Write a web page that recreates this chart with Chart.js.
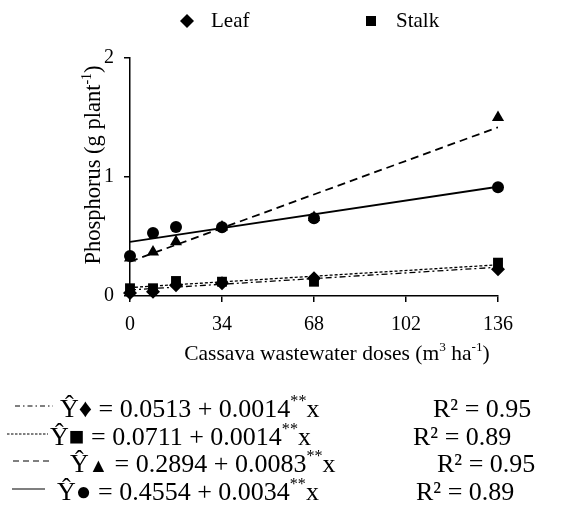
<!DOCTYPE html>
<html>
<head>
<meta charset="utf-8">
<script src="https://cdn.jsdelivr.net/npm/chart.js@4"></script>
<style>
  html, body { margin: 0; padding: 0; background: #fff; }
  #wrap { width: 565px; height: 508px; }
</style>
</head>
<body>
<div id="wrap"><canvas id="myChart" width="565" height="508"></canvas></div>
<script>
// doses of cassava wastewater (m3 ha-1)
const doses = [0, 8.5, 17, 34, 68, 136];
const xTicks = [0, 34, 68, 102, 136];
const yTicks = [0, 1, 2];

// phosphorus (g plant-1)
const leafP = [0.025, 0.036, 0.09, 0.107, 0.149, 0.224];
const stalkP = [0.065, 0.065, 0.126, 0.12, 0.12, 0.28];
const triangleP = [0.32, 0.37, 0.456, 0.58, 0.66, 1.50];
const circleP = [0.336, 0.53, 0.58, 0.577, 0.653, 0.913];

// fitted lines, ends at dose 0 and 136
const trendX = [0, 136];
const leafTrend = [0.051, 0.242];
const stalkTrend = [0.071, 0.262];
const triangleTrend = [0.289, 1.418];
const circleTrend = [0.455, 0.918];

// equations under the chart
const eqSymbols = ['\u2666', '\u25A0', '\u25B2', '\u25CF'];
const eqIntercepts = ['0.0513', '0.0711', '0.2894', '0.4554'];
const eqSlopes = ['0.0014', '0.0014', '0.0083', '0.0034'];
const eqR2 = ['0.95', '0.89', '0.95', '0.89'];

const SERIF = '"Liberation Serif", "Times New Roman", serif';

function pts(xs, ys) {
    return xs.map((x, i) => ({ x: x, y: ys[i] }));
}

function markerSet(label, ys, style, r) {
    return {
        label: label,
        data: pts(doses, ys),
        showLine: false,
        pointStyle: style,
        pointRadius: r,
        backgroundColor: '#000',
        borderColor: '#000',
        borderWidth: 0,
        clip: false
    };
}

function trendSet(ys, dash, w) {
    return {
        label: '',
        data: pts(trendX, ys),
        showLine: true,
        pointRadius: 0,
        borderColor: '#000',
        borderWidth: w,
        borderDash: dash,
        fill: false
    };
}

// draws a row of text pieces, some raised as superscripts or scaled down
function richText(c, parts, x, y, size) {
    let cx = x;
    for (const p of parts) {
        const s = p.sup ? size * 0.62 : size * (p.k || 1);
        c.font = s + 'px ' + SERIF;
        const dy = p.sup ? -size * 0.42 : 0;
        c.fillText(p.t, cx, y + dy);
        cx += c.measureText(p.t).width;
    }
    return cx;
}

function richWidth(c, parts, size) {
    let w = 0;
    for (const p of parts) {
        c.font = (p.sup ? size * 0.62 : size * (p.k || 1)) + 'px ' + SERIF;
        w += c.measureText(p.t).width;
    }
    return w;
}

const eqLayout = [
    { y: 408, x0: 15, x1: 53, dash: [5, 3, 1.5, 3], lw: 1, tx: 60, rx: 433, k: 1 },
    { y: 436, x0: 7, x1: 48, dash: [2.5, 1.5], lw: 1, tx: 50, rx: 413, k: 1 },
    { y: 463, x0: 13, x1: 53, dash: [6, 4], lw: 1.2, tx: 70, rx: 437, k: 0.75 },
    { y: 491, x0: 12, x1: 45, dash: [], lw: 1.2, tx: 57, rx: 416, k: 1 }
];

const decor = {
    id: 'decor',
    afterDraw(chart) {
        const c = chart.ctx;
        c.save();
        c.fillStyle = '#000';
        c.strokeStyle = '#000';

        // legend on top
        c.beginPath();
        c.moveTo(187, 14); c.lineTo(194, 21); c.lineTo(187, 28); c.lineTo(180, 21);
        c.closePath(); c.fill();
        c.fillRect(366, 16, 10, 10);
        c.font = '21px ' + SERIF;
        c.textBaseline = 'middle';
        c.textAlign = 'left';
        c.fillText('Leaf', 211, 21);
        c.fillText('Stalk', 396, 21);

        // axis titles
        c.textBaseline = 'alphabetic';
        const xt = [{ t: 'Cassava wastewater doses (m' }, { t: '3', sup: true }, { t: ' ha' }, { t: '-1', sup: true }, { t: ')' }];
        const xw = richWidth(c, xt, 21.5);
        richText(c, xt, 337 - xw / 2, 360, 21.5);

        const yt = [{ t: 'Phosphorus (g plant' }, { t: '-1', sup: true }, { t: ')' }];
        const yw = richWidth(c, yt, 22.5);
        c.save();
        c.translate(100, 165);
        c.rotate(-Math.PI / 2);
        richText(c, yt, -yw / 2, 0, 22.5);
        c.restore();

        // equations
        for (let i = 0; i < eqLayout.length; i++) {
            const L = eqLayout[i];
            c.beginPath();
            c.lineWidth = L.lw;
            c.setLineDash(L.dash);
            c.moveTo(L.x0, L.y - 2);
            c.lineTo(L.x1, L.y - 2);
            c.stroke();
            c.setLineDash([]);
            const parts = [
                { t: '\u0176' },
                { t: eqSymbols[i], k: L.k },
                { t: ' = ' + eqIntercepts[i] + ' + ' + eqSlopes[i] },
                { t: '**', sup: true },
                { t: 'x' }
            ];
            richText(c, parts, L.tx, L.y + 9, 26);
            richText(c, [{ t: 'R\u00B2 = ' + eqR2[i] }], L.rx, L.y + 9, 26);
        }
        c.restore();
    }
};

const ctx = document.getElementById('myChart');
new Chart(ctx, {
    type: 'scatter',
    data: {
        datasets: [
            markerSet('Leaf', leafP, 'rectRot', 7),
            markerSet('Stalk', stalkP, 'rect', 7),
            markerSet('Triangle', triangleP, 'triangle', 7),
            markerSet('Circle', circleP, 'circle', 6),
            trendSet(leafTrend, [6, 3, 2, 3], 1.3),
            trendSet(stalkTrend, [3, 2], 1.3),
            trendSet(triangleTrend, [8, 5], 1.8),
            trendSet(circleTrend, [], 1.8)
        ]
    },
    options: {
        responsive: false,
        animation: false,
        layout: { padding: { top: 58, right: 67, bottom: 142, left: 0 } },
        plugins: {
            legend: { display: false },
            tooltip: { enabled: false }
        },
        scales: {
            x: {
                type: 'linear',
                min: 0,
                max: 136,
                afterBuildTicks: s => { s.ticks = xTicks.map(v => ({ value: v })); },
                afterFit: s => { s.height = 70; },
                ticks: { color: '#000', font: { family: SERIF, size: 20 }, padding: 11 },
                grid: { drawOnChartArea: false, drawTicks: true, tickLength: 6, color: '#000', lineWidth: 1.5 },
                border: { display: true, color: '#000', width: 1.5 }
            },
            y: {
                min: 0,
                max: 2,
                afterBuildTicks: s => { s.ticks = yTicks.map(v => ({ value: v })); },
                afterFit: s => { s.width = 130; },
                ticks: { color: '#000', font: { family: SERIF, size: 20 }, padding: 10 },
                grid: { drawOnChartArea: false, drawTicks: true, tickLength: 6, color: '#000', lineWidth: 1.5 },
                border: { display: true, color: '#000', width: 1.5 }
            }
        }
    },
    plugins: [decor]
});
</script>
</body>
</html>
